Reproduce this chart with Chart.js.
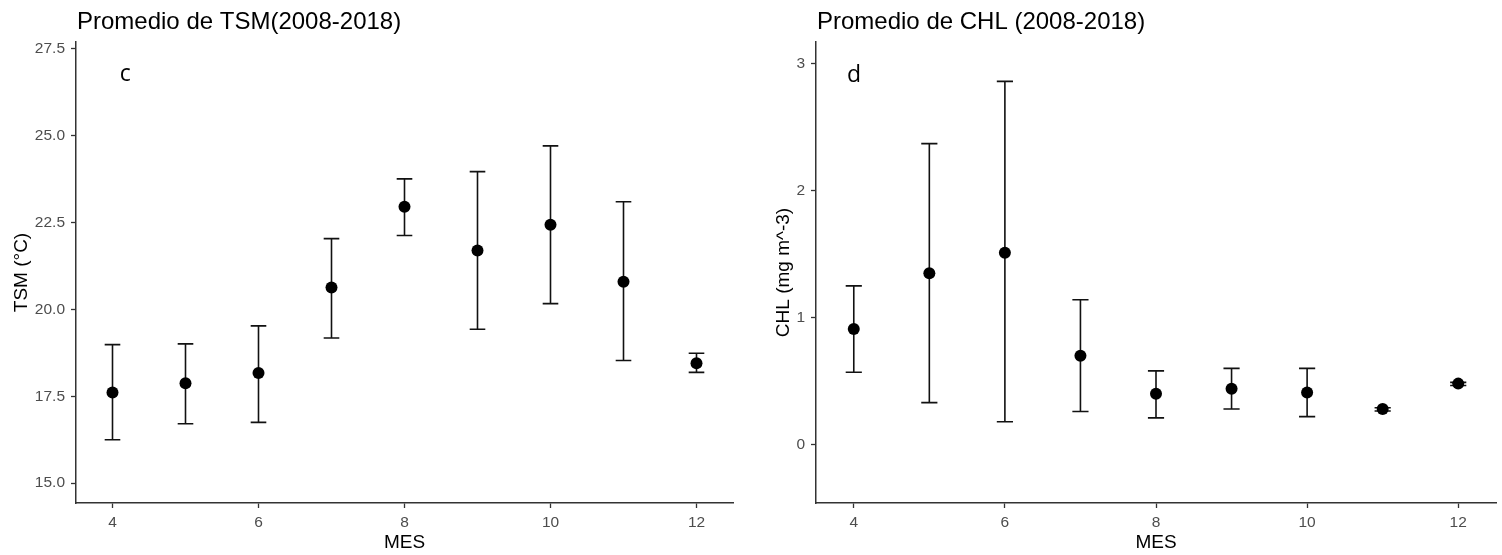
<!DOCTYPE html>
<html>
<head>
<meta charset="utf-8">
<script src="https://cdn.jsdelivr.net/npm/chart.js@4.4.1/dist/chart.umd.min.js"></script>
<style>
  html, body { margin: 0; padding: 0; background: #fff; }
  #wrap { position: relative; width: 1502px; height: 555px; }
  .panel { position: absolute; top: 0; height: 555px; }
</style>
</head>
<body>
<div id="wrap">
  <div class="panel" style="left:0;width:740px"><canvas id="tsm"></canvas></div>
  <div class="panel" style="left:740px;width:762px"><canvas id="chl"></canvas></div>
</div>
<script>
// months on the x axis
const months = [4, 5, 6, 7, 8, 9, 10, 11, 12];
const monthTicks = [4, 6, 8, 10, 12];

// sea surface temperature (°C), mean and error bar ends
const tsmMean = [17.61, 17.88, 18.17, 20.63, 22.96, 21.70, 22.44, 20.80, 18.45];
const tsmLow  = [16.25, 16.71, 16.75, 19.18, 22.13, 19.43, 20.17, 18.53, 18.19];
const tsmHigh = [18.99, 19.01, 19.53, 22.04, 23.76, 23.97, 24.71, 23.10, 18.74];
const tsmTicks = [15, 17.5, 20, 22.5, 25, 27.5];

// chlorophyll (mg m^-3), mean and error bar ends
const chlMean = [0.91, 1.35, 1.51, 0.70, 0.40, 0.44, 0.41, 0.28, 0.48];
const chlLow  = [0.57, 0.33, 0.18, 0.26, 0.21, 0.28, 0.22, 0.265, 0.465];
const chlHigh = [1.25, 2.37, 2.86, 1.14, 0.58, 0.60, 0.60, 0.29, 0.49];
const chlTicks = [0, 1, 2, 3];

const AXIS = '#333333';
const TICK_TXT = '#4d4d4d';

// error bars, plot title and panel letter
function decor(o) {
  return {
    id: 'decor',
    beforeDatasetsDraw(chart) {
      const { ctx, scales: { x, y } } = chart;
      ctx.save();
      ctx.strokeStyle = '#111';
      ctx.lineWidth = 1.6;
      months.forEach((m, i) => {
        const px = x.getPixelForValue(m);
        const half = (x.getPixelForValue(m + 0.107) - x.getPixelForValue(m - 0.107)) / 2;
        const y0 = y.getPixelForValue(o.low[i]);
        const y1 = y.getPixelForValue(o.high[i]);
        ctx.beginPath();
        ctx.moveTo(px, y0); ctx.lineTo(px, y1);
        ctx.moveTo(px - half, y0); ctx.lineTo(px + half, y0);
        ctx.moveTo(px - half, y1); ctx.lineTo(px + half, y1);
        ctx.stroke();
      });
      ctx.restore();
    },
    afterDraw(chart) {
      const { ctx, chartArea, scales: { x, y } } = chart;
      ctx.save();
      ctx.fillStyle = '#000';
      ctx.textBaseline = 'alphabetic';
      ctx.textAlign = 'left';
      ctx.font = '24px "Liberation Sans", Arial, sans-serif';
      ctx.fillText(o.title, chartArea.left + 1, 29);
      ctx.font = '23px "Open Sans", sans-serif';
      ctx.fillText(o.letter, x.getPixelForValue(o.letterAt[0]), y.getPixelForValue(o.letterAt[1]));
      ctx.restore();
    }
  };
}

function panel(id, o) {
  new Chart(document.getElementById(id), {
    type: 'scatter',
    data: {
      datasets: [{
        data: months.map((m, i) => ({ x: m, y: o.mean[i] })),
        pointRadius: 6,
        pointHoverRadius: 6,
        pointBackgroundColor: '#000',
        pointBorderWidth: 0
      }]
    },
    options: {
      responsive: true,
      maintainAspectRatio: false,
      animation: false,
      events: [],
      layout: { padding: { top: 42, right: o.padRight, left: 0, bottom: 0 } },
      plugins: { legend: { display: false }, tooltip: { enabled: false } },
      scales: {
        x: {
          type: 'linear', min: 3.5, max: 12.5,
          afterFit(s) { s.height = 52; },
          afterBuildTicks(s) { s.ticks = monthTicks.map(v => ({ value: v })); },
          ticks: { color: TICK_TXT, font: { family: 'Liberation Sans', size: 15.5 }, padding: 5, maxRotation: 0 },
          grid: { display: true, drawOnChartArea: false, drawTicks: true, tickLength: 5, tickColor: AXIS, tickWidth: 1.3 },
          border: { display: true, color: AXIS, width: 1.5 },
          title: { display: true, text: 'MES', color: '#000', font: { family: 'Liberation Sans', size: 19 }, padding: { top: 0, bottom: 1 } }
        },
        y: {
          type: 'linear', min: o.yMin, max: o.yMax,
          afterFit(s) { s.width = 76; },
          afterBuildTicks(s) { s.ticks = o.ticks.map(v => ({ value: v })); },
          ticks: { color: TICK_TXT, font: { family: 'Liberation Sans', size: 15.5 }, padding: 6, callback: o.fmt },
          grid: { display: true, drawOnChartArea: false, drawTicks: true, tickLength: 5, tickColor: AXIS, tickWidth: 1.3 },
          border: { display: true, color: AXIS, width: 1.5 },
          title: { display: true, text: o.yTitle, color: '#000', font: { family: 'Liberation Sans', size: 19 }, padding: { top: o.yTitlePad, bottom: 0 } }
        }
      }
    },
    plugins: [decor(o)]
  });
}

panel('tsm', {
  mean: tsmMean, low: tsmLow, high: tsmHigh, ticks: tsmTicks,
  yMin: 14.43, yMax: 27.7, fmt: v => v.toFixed(1),
  yTitle: 'TSM (°C)', yTitlePad: 10, padRight: 7,
  title: 'Promedio de TSM(2008-2018)', letter: 'c', letterAt: [4.1, 26.57]
});

panel('chl', {
  mean: chlMean, low: chlLow, high: chlHigh, ticks: chlTicks,
  yMin: -0.46, yMax: 3.17, fmt: v => String(v),
  yTitle: 'CHL (mg m^-3)', yTitlePad: 32, padRight: 5,
  title: 'Promedio de CHL (2008-2018)', letter: 'd', letterAt: [3.91, 2.855]
});
</script>
</body>
</html>
